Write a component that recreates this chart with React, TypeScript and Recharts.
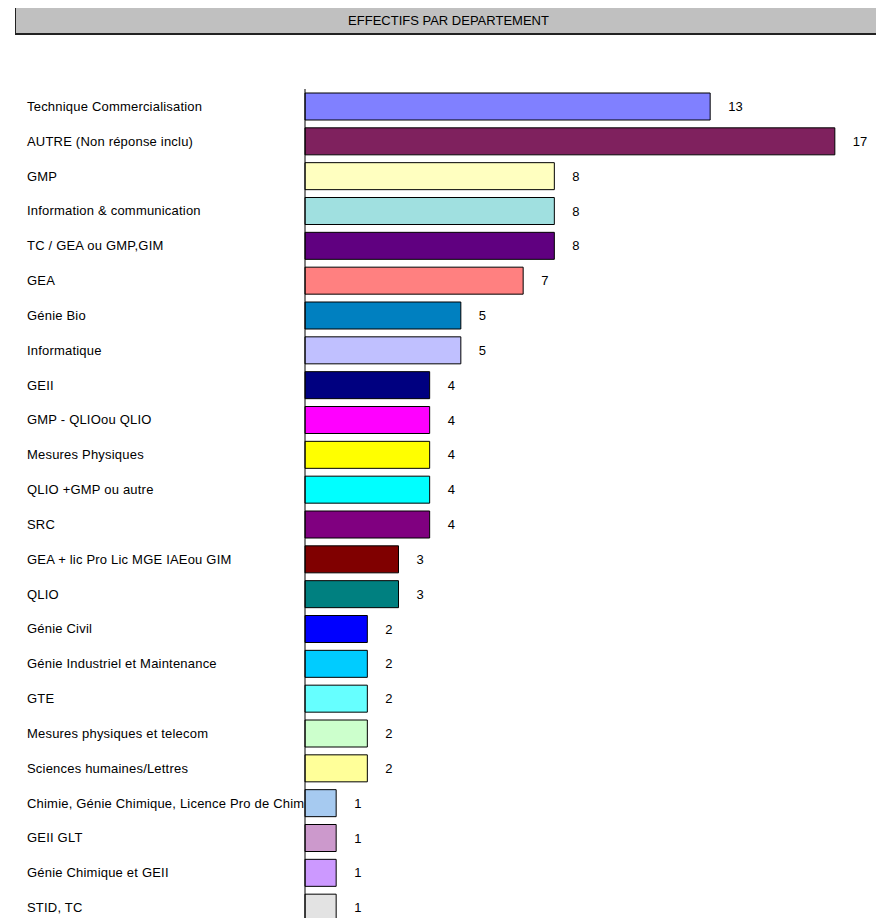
import React from "react";
import { BarChart, Bar, XAxis, YAxis, Cell, LabelList } from "recharts";

const categories = [
  "Technique Commercialisation",
  "AUTRE (Non réponse inclu)",
  "GMP",
  "Information & communication",
  "TC / GEA ou GMP,GIM",
  "GEA",
  "Génie Bio",
  "Informatique",
  "GEII",
  "GMP - QLIOou QLIO",
  "Mesures Physiques",
  "QLIO +GMP ou autre",
  "SRC",
  "GEA + lic Pro Lic MGE IAEou GIM",
  "QLIO",
  "Génie Civil",
  "Génie Industriel et Maintenance",
  "GTE",
  "Mesures physiques et telecom",
  "Sciences humaines/Lettres",
  "Chimie, Génie Chimique, Licence Pro de Chim",
  "GEII GLT",
  "Génie Chimique et GEII",
  "STID, TC",
];

const values = [13, 17, 8, 8, 8, 7, 5, 5, 4, 4, 4, 4, 4, 3, 3, 2, 2, 2, 2, 2, 1, 1, 1, 1];

const colors = [
  "#8080FF", "#7F215E", "#FFFFC0", "#A0E0E0", "#600080", "#FF8080",
  "#0080C0", "#C0C0FF", "#000080", "#FF00FF", "#FFFF00", "#00FFFF",
  "#800080", "#800000", "#008080", "#0000FF", "#00CCFF", "#66FFFF",
  "#CCFFCC", "#FFFF99", "#A6CAF0", "#CC99CC", "#CC99FF", "#E3E3E3",
];

const title = "EFFECTIFS PAR DEPARTEMENT";

const data = categories.map((name, i) => ({ name, value: values[i] }));

const FONT = "'Liberation Sans', Arial, sans-serif";

const CategoryTick = (props: any) => {
  const { y, payload } = props;
  return (
    <text x={19} y={y} dominantBaseline="central" textAnchor="start" fontSize={13} letterSpacing={0.2} fontFamily={FONT} fill="#000">
      {payload.value}
    </text>
  );
};

const ValueLabel = (props: any) => {
  const { x, y, width, height, value } = props;
  return (
    <text x={x + width + 18} y={y + height / 2} dominantBaseline="central" textAnchor="start" fontSize={13} fontFamily={FONT} fill="#000">
      {value}
    </text>
  );
};

export default function App() {
  return (
    <div style={{ position: "relative", width: 876, height: 920 }}>
      <div
        style={{
          position: "absolute",
          left: 7,
          top: -3,
          width: 868,
          height: 30,
          boxSizing: "border-box",
          background: "#C0C0C0",
          borderTop: "2px solid #222",
          borderBottom: "2px solid #222",
          borderLeft: "1px solid #222",
          borderRight: "2px solid #444",
          display: "flex",
          alignItems: "center",
          justifyContent: "center",
          fontFamily: FONT,
          fontSize: 13,
          color: "#000",
        }}
      >
        {title}
      </div>
      <BarChart
        width={876}
        height={920}
        data={data}
        layout="vertical"
        margin={{ top: 81, right: 18, bottom: 3, left: 0 }}
        barSize={27}
      >
        <XAxis type="number" domain={[0, 18]} hide />
        <YAxis
          type="category"
          dataKey="name"
          width={297}
          axisLine={{ stroke: "#000", strokeWidth: 1 }}
          tickLine={false}
          tick={<CategoryTick />}
          interval={0}
        />
        <Bar dataKey="value" stroke="#000" strokeWidth={1} isAnimationActive={false}>
          {data.map((d, i) => (
            <Cell key={d.name} fill={colors[i]} />
          ))}
          <LabelList dataKey="value" content={<ValueLabel />} />
        </Bar>
      </BarChart>
    </div>
  );
}
